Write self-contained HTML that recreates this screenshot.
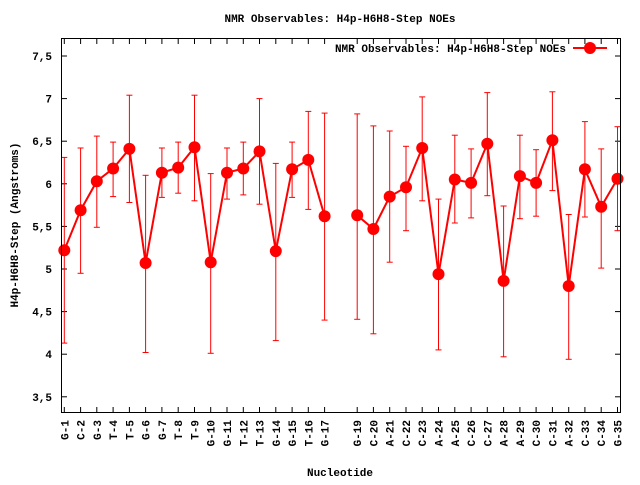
<!DOCTYPE html>
<html><head><meta charset="utf-8"><style>
html,body{margin:0;padding:0;background:#fff;}
svg text{font-family:"Liberation Mono","DejaVu Sans Mono",monospace;font-weight:bold;font-size:11px;fill:#000;}
</style></head><body>
<svg id="s" width="640" height="480" xmlns="http://www.w3.org/2000/svg">
<rect x="0" y="0" width="640" height="480" fill="#fff"/>
<text x="340" y="22" text-anchor="middle">NMR Observables: H4p-H6H8-Step NOEs</text>
<text x="340" y="476" text-anchor="middle">Nucleotide</text>
<text transform="translate(18,225) rotate(-90)" text-anchor="middle">H4p-H6H8-Step (Angstroms)</text>
<g id="g"></g>
<rect x="61.5" y="38.5" width="559" height="374" fill="none" stroke="#000" stroke-width="1"/>
<text x="566" y="52" text-anchor="end">NMR Observables: H4p-H6H8-Step NOEs</text>
<line x1="573" y1="48" x2="607" y2="48" stroke="#f00" stroke-width="2"/>
<circle cx="590" cy="48" r="6" fill="#f00"/>
</svg>
<script>
var d=[[1,"G-1",5.22,4.13,6.31],[2,"C-2",5.69,4.95,6.42],[3,"G-3",6.03,5.49,6.56],[4,"T-4",6.18,5.85,6.49],[5,"T-5",6.41,5.78,7.04],[6,"G-6",5.07,4.02,6.10],[7,"G-7",6.13,5.84,6.42],[8,"T-8",6.19,5.89,6.49],[9,"T-9",6.43,5.80,7.04],[10,"G-10",5.08,4.01,6.12],[11,"G-11",6.13,5.82,6.42],[12,"T-12",6.18,5.87,6.49],[13,"T-13",6.38,5.76,7.00],[14,"G-14",5.21,4.16,6.24],[15,"G-15",6.17,5.84,6.49],[16,"T-16",6.28,5.70,6.85],[17,"G-17",5.62,4.40,6.83],[19,"G-19",5.63,4.41,6.82],[20,"C-20",5.47,4.24,6.68],[21,"A-21",5.85,5.08,6.62],[22,"C-22",5.96,5.45,6.44],[23,"C-23",6.42,5.80,7.02],[24,"A-24",4.94,4.05,5.82],[25,"A-25",6.05,5.54,6.57],[26,"C-26",6.01,5.60,6.41],[27,"C-27",6.47,5.86,7.07],[28,"A-28",4.86,3.97,5.74],[29,"A-29",6.09,5.59,6.57],[30,"C-30",6.01,5.62,6.40],[31,"C-31",6.51,5.92,7.08],[32,"A-32",4.80,3.94,5.64],[33,"C-33",6.17,5.61,6.73],[34,"C-34",5.73,5.01,6.41],[35,"G-35",6.06,5.45,6.67]];
function X(i){return 64.3+(i-1)*16.27;}
function Y(v){return 56+(7.5-v)*85.2;}
var h='';
for(var v=3.5;v<=7.51;v+=0.5){var y=Y(v).toFixed(1);
h+='<line x1="61.5" y1="'+y+'" x2="67" y2="'+y+'" stroke="#000"/><line x1="615" y1="'+y+'" x2="620.5" y2="'+y+'" stroke="#000"/>';
var t=(Math.abs(v-Math.round(v))<0.01)?String(Math.round(v)):v.toFixed(1).replace('.',',');
h+='<text x="52" y="'+(+y+4)+'" text-anchor="end">'+t+'</text>';}
var p='';
for(var k=0;k<d.length;k++){var r=d[k],x=X(r[0]).toFixed(1);
h+='<line x1="'+x+'" y1="412.5" x2="'+x+'" y2="407" stroke="#000"/><line x1="'+x+'" y1="38.5" x2="'+x+'" y2="44" stroke="#000"/>';
h+='<text transform="translate('+(+x+4)+',420) rotate(-90)" text-anchor="end">'+r[1]+'</text>';
var y1=Y(r[3]).toFixed(1),y2=Y(r[4]).toFixed(1);
h+='<line x1="'+x+'" y1="'+y1+'" x2="'+x+'" y2="'+y2+'" stroke="#f00"/>';
h+='<line x1="'+(x-3)+'" y1="'+y1+'" x2="'+(+x+3)+'" y2="'+y1+'" stroke="#f00"/><line x1="'+(x-3)+'" y1="'+y2+'" x2="'+(+x+3)+'" y2="'+y2+'" stroke="#f00"/>';
}
var seg=[[],[]];for(var k=0;k<d.length;k++){seg[d[k][0]<18?0:1].push(X(d[k][0]).toFixed(1)+','+Y(d[k][2]).toFixed(1));}
for(var s=0;s<2;s++)h+='<polyline points="'+seg[s].join(' ')+'" fill="none" stroke="#f00" stroke-width="2"/>';
for(var k=0;k<d.length;k++)h+='<circle cx="'+X(d[k][0]).toFixed(1)+'" cy="'+Y(d[k][2]).toFixed(1)+'" r="6" fill="#f00"/>';
document.getElementById('g').innerHTML=h;
</script>
</body></html>
